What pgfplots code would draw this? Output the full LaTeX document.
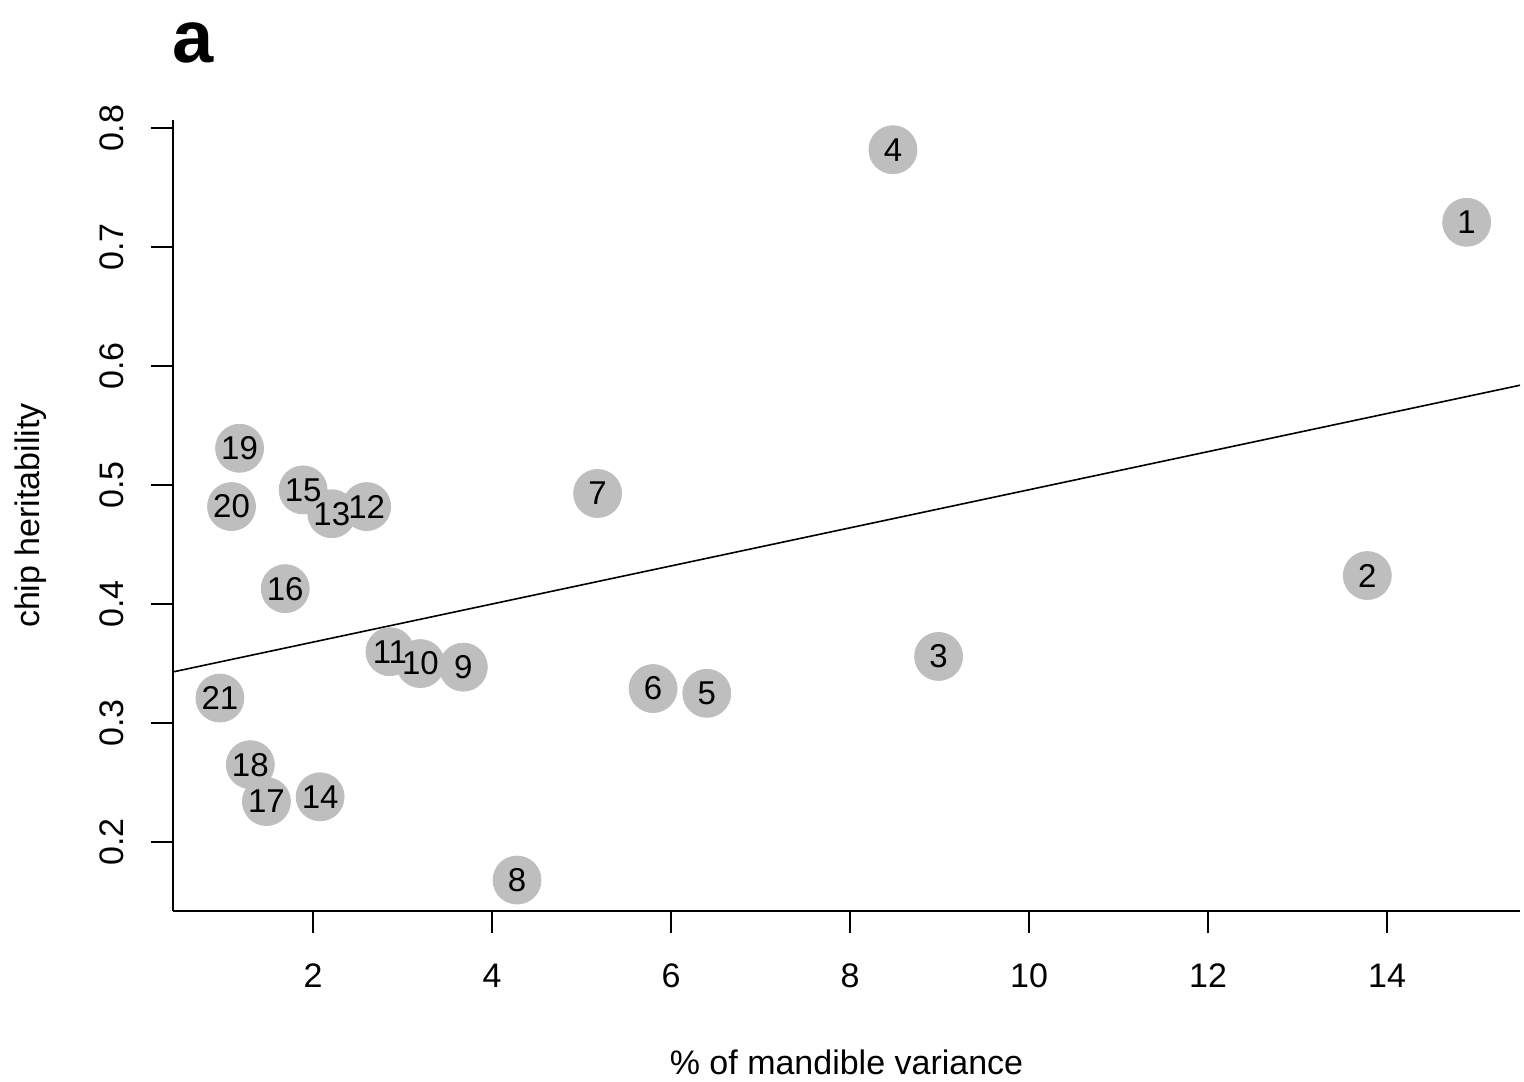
\documentclass[border=0pt]{standalone}
\usepackage{pgfplots}
\usepackage{pgfplotstable}
\pgfplotsset{compat=1.18}
\usepackage{fontspec}
\setmainfont{Liberation Sans}
\definecolor{ptgray}{RGB}{190,190,190}

% trait number, % of mandible variance, chip heritability
\pgfplotstableread{
x     y     lab
14.89 0.721 1
13.78 0.424 2
8.99  0.356 3
8.48  0.782 4
6.40  0.325 5
5.80  0.329 6
5.18  0.493 7
4.28  0.168 8
3.68  0.347 9
3.20  0.350 10
2.86  0.360 11
2.60  0.482 12
2.21  0.476 13
2.08  0.238 14
1.89  0.496 15
1.69  0.413 16
1.48  0.234 17
1.30  0.265 18
1.18  0.531 19
1.09  0.482 20
0.96  0.321 21
}\heritab

\begin{document}
\begin{tikzpicture}
\path[use as bounding box] (-86.5pt,-85pt) rectangle (675.5pt,455.5pt);
\begin{axis}[
  at={(0,0)}, anchor=south west,
  scale only axis, width=673.5pt, height=395.5pt,
  xmin=0.436, xmax=15.486, ymin=0.142, ymax=0.807,
  clip=false,
  axis x line*=bottom, axis y line*=left,
  axis line style={line width=1pt, -},
  xtick={2,4,6,8,10,12,14},
  ytick={0.2,0.3,0.4,0.5,0.6,0.7,0.8},
  minor tick num=0,
  tick align=outside, major tick length=11pt,
  tick style={black, line width=1pt},
  /pgf/number format/assume math mode=true,
  tick label style={font=\fontsize{17}{20}\selectfont},
  yticklabel style={rotate=90, anchor=south, inner xsep=0pt, inner ysep=13.5pt,
    /pgf/number format/fixed, /pgf/number format/precision=1},
  xticklabel style={anchor=base, inner sep=0pt, yshift=-27pt},
  xlabel={\% of mandible variance},
  ylabel={chip heritability},
  every axis x label/.style={at={(axis description cs:0.5,-0.1909)}, anchor=center,
    font=\fontsize{17}{20}\selectfont},
  every axis y label/.style={at={(axis description cs:-0.1054,0.5)}, anchor=center,
    rotate=90, font=\fontsize{17}{20}\selectfont},
]
% filled grey discs
\addplot[only marks, color=ptgray, mark=*, mark size=12pt,
  mark options={fill=ptgray, draw=ptgray}]
  table[x=x, y=y] {\heritab};
% fitted line
\addplot[black, line width=0.8pt] coordinates {(0.436,0.343) (15.486,0.584)};
% trait numbers on top of the discs
\addplot[draw=none, mark=none, nodes near coords, point meta=explicit symbolic,
  every node near coord/.append style={anchor=center, inner sep=0pt, black,
    font=\fontsize{16.5}{19}\selectfont}]
  table[x=x, y=y, meta=lab] {\heritab};
\end{axis}
\node[font=\fontsize{37}{40}\selectfont\bfseries] at (10pt,434pt) {a};
\end{tikzpicture}
\end{document}
